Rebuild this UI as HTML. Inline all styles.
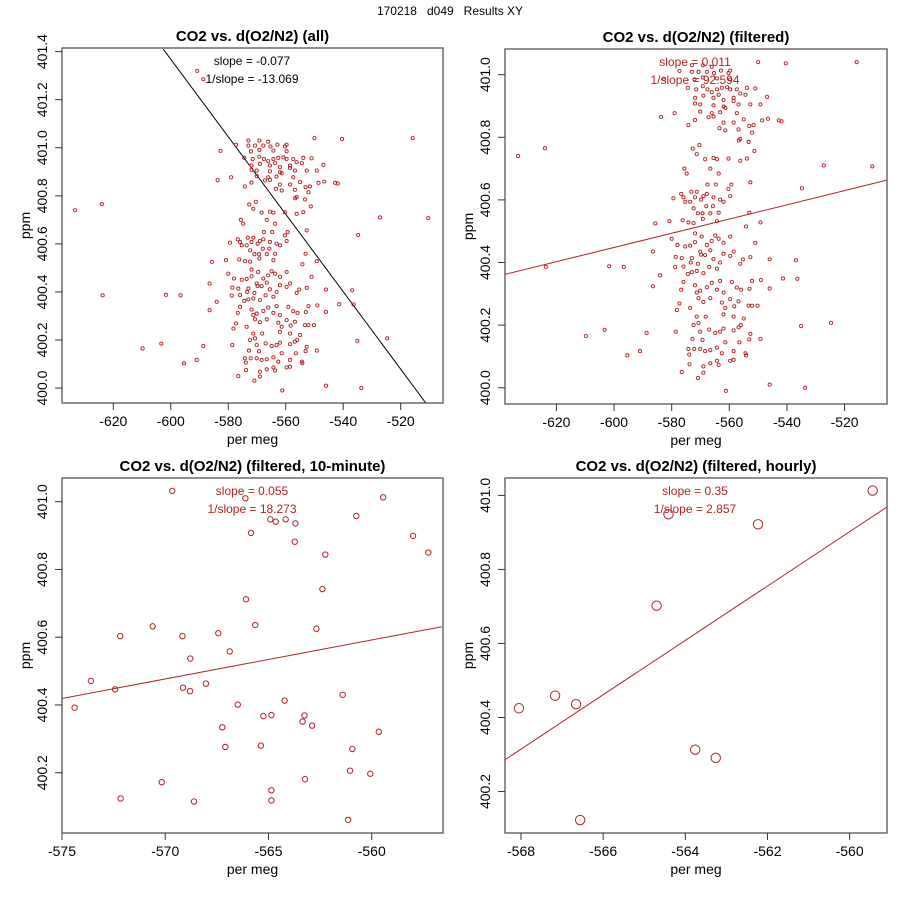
<!DOCTYPE html>
<html><head><meta charset="utf-8">
<style>
body{margin:0;background:#fff;}
svg{display:block;font-family:"Liberation Sans",Arial,sans-serif;}
</style></head>
<body>
<svg id="chart" width="900" height="900" viewBox="0 0 900 900">
<rect x="0" y="0" width="900" height="900" fill="#fff"/>
<text x="450" y="15" text-anchor="middle" font-size="12" fill="#000" style="white-space:pre">170218   d049   Results XY</text>
</svg>
<script>
// ---------- DATA ----------
// Panel 1 & 2: all points (per meg, ppm)
const allX = [-633.3,-624.0,-623.7,-609.8,-603.3,-601.7,-596.6,-595.4,-591.0,-588.7,-583.7,-579.0,-585.7,-586.5,-584.0,-586.5,-550.0,-540.4,-515.8,-527.2,-510.4,-536.9,-536.4,-541.4,-535.1,-524.7,-546.0,-533.7,-561.2,
-573.0,-569.2,-566.1,-562.9,-559.7,-577.3,-573.0,-570.7,-567.8,-565.3,-560.3,-559.7,-572.1,-569.2,-564.3,-574.4,-571.5,-569.2,-567.6,-566.1,-564.3,-562.6,-560.8,-559.7,-557.4,-553.9,-551.0,-571.9,-569.0,-565.5,-563.7,-562.0,-558.5,-556.2,-554.4,-546.9,-571.9,-570.1,-565.5,-562.0,-558.5,-556.8,-552.7,-549.2,-570.1,-566.1,-563.2,-561.4,-557.4,-567.2,-565.5,-562.0,-558.5,-555.0,-548.6,-546.6,-542.8,-541.9,-574.2,-571.9,-563.4,-561.4,-556.8,-553.1,-551.6,-552.1,-556.2,-553.3,-572.7,-571.3,-568.4,-565.5,-564.3,-556.2,-553.9,-551.3,-560.3,
-575.6,-574.8,-566.6,-563.7,-567.6,-564.7,-559.3,-552.7,-560.3,-576.7,-575.9,-573.2,-571.3,-571.9,-569.0,-567.8,-565.5,-563.2,-559.7,-579.4,-575.3,-573.6,-569.8,-568.0,-562.0,-565.7,-570.9,-569.3,-566.6,-563.7,-572.4,-569.2,-564.3,-576.2,-574.2,-572.4,-580.8,-553.1,-549.2,-554.2,-571.9,-569.6,-566.1,-571.9,-567.8,-563.7,-562.0,-559.7,-575.3,-573.6,-578.0,-570.1,-566.6,-562.0,-580.0,-551.0,-558.5,-578.6,-576.5,-573.0,-569.8,-568.4,-565.5,-563.2,-559.7,-555.3,-552.7,-546.0,-573.4,-570.9,-567.0,-564.3,-556.2,-578.8,-575.9,-571.3,-574.4,-573.0,-569.0,-566.1,-563.2,-571.9,-570.1,-567.8,-564.3,-559.1,-557.4,-555.9,-553.0,-552.1,-549.0,-546.0,-576.7,-575.9,-562.0,-571.3,-578.2,-577.3,-573.6,-570.7,-569.0,-566.6,-562.6,-561.4,-559.7,-556.8,-553.3,-550.2,-568.2,-571.3,-562.0,-558.5,-555.0,-552.1,-578.6,-572.4,-570.1,-567.0,-564.9,-563.2,-570.7,-562.0,-556.8,-558.5,-556.0,-552.7,-549.2,-569.3,-572.8,-574.2,-572.2,-570.1,-568.4,-566.6,-564.3,-562.6,-561.4,-558.5,-554.4,-553.1,-556.5,-573.9,-576.5,-570.9,-569.0,-569.0,-566.6,-564.3,-559.7,-558.5,-563.7,-554.2,-573.8,
-590.8,-588.7,-582.7,-534.8,-556.7,-570.4,-564.9,-558.3];
const allY = [400.740,400.765,400.386,400.165,400.185,400.388,400.386,400.103,400.117,400.175,400.865,400.877,400.525,400.435,400.359,400.324,401.040,401.036,401.040,400.710,400.707,400.407,400.348,400.349,400.197,400.207,400.010,400.000,399.990,
401.030,401.030,401.025,401.013,401.013,401.012,401.009,401.009,401.009,401.005,401.005,400.985,400.985,400.991,400.988,400.958,400.953,400.963,400.953,400.944,400.953,400.958,400.960,400.953,400.953,400.958,400.956,400.926,400.933,400.926,400.936,400.919,400.926,400.940,400.936,400.929,400.908,400.905,400.902,400.898,400.916,400.905,400.905,400.905,400.882,400.877,400.880,400.894,400.877,400.864,400.866,400.847,400.847,400.857,400.854,400.859,400.854,400.851,400.839,400.855,400.829,400.822,400.825,400.836,400.839,400.815,400.795,400.785,400.764,400.746,400.730,400.734,400.730,400.725,400.732,400.756,400.732,
400.700,400.684,400.700,400.684,400.649,400.649,400.649,400.656,400.635,400.619,400.608,400.626,400.626,400.608,400.612,400.619,400.608,400.601,400.612,400.605,400.594,400.594,400.601,400.580,400.594,400.580,400.557,400.557,400.557,400.559,400.573,400.539,400.532,400.535,400.528,400.526,400.532,400.559,400.528,400.515,400.493,400.483,400.469,400.465,400.456,400.476,400.463,400.483,400.451,400.454,400.456,400.435,400.439,400.428,400.476,400.463,400.435,400.418,400.414,400.414,400.425,400.424,400.411,400.400,400.421,400.410,400.417,400.410,400.400,400.396,400.386,400.380,400.396,400.385,400.387,400.373,400.363,400.369,400.366,400.335,400.341,400.327,400.310,400.321,400.313,400.338,400.320,400.313,400.316,400.341,400.344,400.317,400.313,400.338,400.304,400.304,400.248,400.269,400.255,400.286,400.274,400.286,400.272,400.255,400.283,400.276,400.262,400.262,400.227,400.227,400.234,400.227,400.221,400.262,400.179,400.200,400.179,400.186,400.175,400.179,400.207,400.189,400.193,400.183,400.200,400.172,400.156,400.153,400.156,400.124,400.124,400.124,400.117,400.120,400.128,400.110,400.145,400.117,400.110,400.154,400.145,400.106,400.050,400.031,400.048,400.068,400.078,400.086,400.086,400.089,400.073,400.103,400.075,
401.320,401.285,400.987,400.637,400.790,400.775,400.486,400.260];
const allBlackFromIndex = 285; // last 8 points are drawn in black (outliers)

// Panel 3: filtered 10-minute means
const tenX = [-569.66,-566.12,-559.45,-564.91,-564.65,-564.17,-563.70,-565.85,-560.75,-563.73,-558.00,-557.26,-562.25,-562.39,-566.09,-565.64,-562.68,-570.61,-572.18,-569.17,-567.43,-566.88,-568.79,-573.60,-572.43,-569.14,-568.80,-568.03,-574.39,-564.22,-561.41,-566.49,-565.25,-564.86,-563.26,-563.35,-562.89,-567.24,-567.09,-565.37,-559.66,-560.94,-561.05,-560.07,-563.23,-570.17,-564.86,-572.16,-568.61,-564.86,-561.14];
const tenY = [401.032,401.010,401.013,400.948,400.941,400.948,400.936,400.908,400.958,400.882,400.899,400.850,400.844,400.742,400.712,400.636,400.625,400.632,400.603,400.603,400.612,400.558,400.537,400.471,400.446,400.451,400.441,400.463,400.392,400.413,400.430,400.401,400.367,400.370,400.369,400.351,400.339,400.334,400.276,400.280,400.321,400.270,400.206,400.197,400.181,400.172,400.148,400.124,400.115,400.118,400.061];

// Panel 4: filtered hourly means
const hourX = [-568.05,-567.17,-566.66,-566.56,-564.70,-564.41,-563.76,-563.26,-562.23,-559.44];
const hourY = [400.425,400.459,400.436,400.123,400.702,400.949,400.313,400.291,400.922,401.013];

// Regression lines [x1,y1,x2,y2]
const fitAll = [-602.6,401.41,-511.2,399.937];
const fitFilt = [-637.9,400.362,-505.3,400.663];
const fitTen = [-575.1,400.418,-556.6,400.631];
const fitHour = [-568.39,400.286,-559.10,400.968];

// Tick labels
const ticksX12 = [-620,-600,-580,-560,-540,-520];
const ticksY1 = [400.0,400.2,400.4,400.6,400.8,401.0,401.2,401.4];
const ticksY2 = [400.0,400.2,400.4,400.6,400.8,401.0];
const ticksX3 = [-575,-570,-565,-560];
const ticksY34 = [400.2,400.4,400.6,400.8,401.0];
const ticksX4 = [-568,-566,-564,-562,-560];

const slopeTexts = [["slope = -0.077","1/slope = -13.069"],["slope = 0.011","1/slope = 92.594"],["slope = 0.055","1/slope = 18.273"],["slope = 0.35","1/slope = 2.857"]];

// ---------- DRAW ----------
const NS = "http://www.w3.org/2000/svg";
const svg = document.getElementById("chart");
const RED = "#b22222";
function mk(tag, attrs, parent){
  const e = document.createElementNS(NS, tag);
  for (const k in attrs) e.setAttribute(k, attrs[k]);
  (parent||svg).appendChild(e);
  return e;
}
function panel(cfg){
  const g = mk("g", {});
  
  
  const L=cfg.box[0], T=cfg.box[1], R=cfg.box[2], B=cfg.box[3];
  const sx = v => L + (v - cfg.xd[0]) / (cfg.xd[1]-cfg.xd[0]) * (R-L);
  const sy = v => B - (v - cfg.yd[0]) / (cfg.yd[1]-cfg.yd[0]) * (B-T);
  const cid = cfg.name + "-clip";
  const cp = mk("clipPath", {id: cid}, g);
  mk("rect", {x:L, y:T, width:R-L, height:B-T}, cp);
  // title
  const t = mk("text", {x:(L+R)/2, y:T-7, "text-anchor":"middle", "font-size":15, "font-weight":"bold"}, g);
  t.textContent = cfg.title;
  
  
  // points
  const pg = mk("g", {"clip-path":"url(#"+cid+")"}, g);
  
  
  for (let i=0;i<cfg.xs.length;i++){
    const c = mk("circle", {cx:sx(cfg.xs[i]), cy:sy(cfg.ys[i]), r:cfg.r, fill:"none",
      stroke:(cfg.blackFrom!=null && i>=cfg.blackFrom)?"#222":RED, "stroke-width":cfg.sw});
    
    
  }
  // fit line
  const f = cfg.fit;
  const ln = mk("line", {x1:sx(f[0]), y1:sy(f[1]), x2:sx(f[2]), y2:sy(f[3]), stroke:cfg.lineColor, "stroke-width":1, "clip-path":"url(#"+cid+")"}, g);
  
  
  // slope text
  for (let k=0;k<2;k++){
    const st = mk("text", {x:cfg.slopeX, y:T+17+k*18, "text-anchor":"middle", "font-size":12, fill:cfg.lineColor}, g);
    st.textContent = cfg.slope[k];
    
    
  }
  // box
  const bx = mk("rect", {x:L, y:T, width:R-L, height:B-T, fill:"none", stroke:"#555", "stroke-width":1.3}, g);
  
  
  // x ticks
  cfg.tx.forEach(v=>{
    const x = sx(v);
    mk("line", {x1:x, y1:B, x2:x, y2:B+7, stroke:"#333", "stroke-width":1}, g);
    const tl = mk("text", {x:x, y:B+23, "text-anchor":"middle", "font-size":14}, g);
    tl.textContent = v;
    
    
  });
  cfg.ty.forEach(v=>{
    const y = sy(v);
    mk("line", {x1:L-7, y1:y, x2:L, y2:y, stroke:"#333", "stroke-width":1}, g);
    const tl = mk("text", {x:0, y:0, "text-anchor":"middle", "font-size":14, transform:"translate("+(L-15)+","+y+") rotate(-90)"}, g);
    tl.textContent = v.toFixed(1);
    
    
  });
  const xt = mk("text", {x:(L+R)/2, y:B+41, "text-anchor":"middle", "font-size":14}, g);
  xt.textContent = "per meg";
  
  
  const yt = mk("text", {x:0, y:0, "text-anchor":"middle", "font-size":14, transform:"translate("+(L-32)+","+((T+B)/2)+") rotate(-90)"}, g);
  yt.textContent = "ppm";
  
  
}
panel({name:"panel-all", title:"CO2 vs. d(O2/N2) (all)", box:[62,48,443,403], xd:[-637.85,-505.28], yd:[399.938,401.415],
  xs:allX, ys:allY, r:1.6, sw:0.9, blackFrom:allBlackFromIndex, fit:fitAll, lineColor:"#000", slope:slopeTexts[0], slopeX:252,
  tx:ticksX12, ty:ticksY1});
panel({name:"panel-filtered", title:"CO2 vs. d(O2/N2) (filtered)", box:[505,49,887,404], xd:[-637.85,-505.28], yd:[399.948,401.082],
  xs:allX.slice(0,allBlackFromIndex), ys:allY.slice(0,allBlackFromIndex), r:1.6, sw:0.9, blackFrom:null, fit:fitFilt, lineColor:RED, slope:slopeTexts[1], slopeX:695,
  tx:ticksX12, ty:ticksY2});
panel({name:"panel-10-minute", title:"CO2 vs. d(O2/N2) (filtered, 10-minute)", box:[62,478,443,833], xd:[-575.0,-556.55], yd:[400.022,401.07],
  xs:tenX, ys:tenY, r:2.7, sw:1, blackFrom:null, fit:fitTen, lineColor:RED, slope:slopeTexts[2], slopeX:252,
  tx:ticksX3, ty:ticksY34});
panel({name:"panel-hourly", title:"CO2 vs. d(O2/N2) (filtered, hourly)", box:[505,478,887,833], xd:[-568.39,-559.09], yd:[400.088,401.047],
  xs:hourX, ys:hourY, r:4.7, sw:1, blackFrom:null, fit:fitHour, lineColor:RED, slope:slopeTexts[3], slopeX:695,
  tx:ticksX4, ty:ticksY34});
</script>
</body></html>
